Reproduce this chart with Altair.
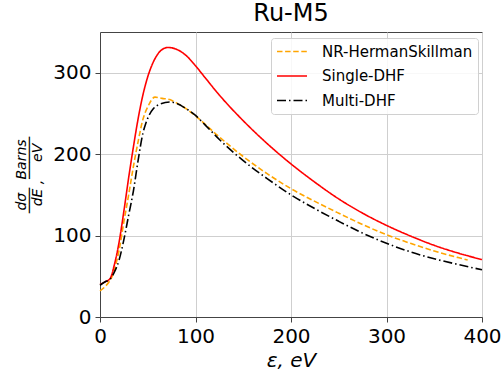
import altair as alt
import pandas as pd

series_names = ["NR-HermanSkillman", "Single-DHF", "Multi-DHF"]
series_colors = ["#ffa500", "#ff0000", "#000000"]

x_nr = [0, 5, 10, 12, 15, 20, 25, 30, 35, 40, 45, 50, 57.6, 65, 73, 80, 90, 100, 125, 150, 175, 200, 225, 250, 275, 300, 325, 350, 375, 385]
y_nr = [32, 37, 44, 48, 58, 82, 117, 150, 185, 216, 243, 258, 270, 268.5, 267, 263, 256, 247, 221, 197, 176, 157.6, 142, 127.5, 113.5, 101, 90.5, 81, 73, 70]

x_single = [0, 5, 10.5, 15, 20, 25, 30, 35, 40, 45, 50, 55, 60, 65, 71, 75, 80, 90, 100, 110, 125, 150, 175, 200, 225, 250, 275, 300, 325, 350, 375, 400]
y_single = [40, 43, 47, 64, 92, 130, 171, 209, 244, 273, 295, 311, 322, 328.5, 331, 330.6, 328.8, 321.3, 308.5, 294, 272.5, 241, 213, 188, 165.5, 145, 127.5, 112.5, 99.5, 88, 78.5, 70.5]

x_multi = [0, 5, 10.5, 15, 20, 25, 30, 35, 40, 45, 48, 52, 56, 63, 73, 80, 90, 100, 110, 125, 150, 175, 200, 225, 250, 275, 300, 325, 350, 375, 400]
y_multi = [39, 43, 46.5, 55, 70, 95, 125, 155, 193, 226, 238, 249, 256, 261.5, 264, 262.5, 256, 247.5, 236, 218, 192, 170, 150, 133, 117.5, 103, 90.5, 80, 71.5, 64.5, 58]

x_ticks = [0, 100, 200, 300, 400]
y_ticks = [0, 100, 200, 300]

frames = []
for name, xs, ys in [(series_names[0], x_nr, y_nr),
                     (series_names[1], x_single, y_single),
                     (series_names[2], x_multi, y_multi)]:
    frames.append(pd.DataFrame({"x": xs, "y": ys, "series": name}))
df = pd.concat(frames, ignore_index=True)

font = "DejaVu Sans"
nb = "\u00a0"
ytitle = [
    "dσ" + nb * 3 + "Barns",
    "───" + nb * 2 + "─────",
    "dE" + nb + "," + nb * 4 + "eV" + nb * 3,
]

lines = alt.Chart(df).mark_line(strokeWidth=1.6, interpolate="monotone").encode(
    x=alt.X("x:Q", scale=alt.Scale(domain=[0, 400], nice=False, zero=False),
            axis=alt.Axis(values=x_ticks, title="ε, eV", titleFontStyle="italic",
                          titleFontSize=20, titleFontWeight="normal", titlePadding=4,
                          labelFontSize=20, labelPadding=4, tickSize=5,
                          labelFlush=False, grid=True)),
    y=alt.Y("y:Q", scale=alt.Scale(domain=[0, 350], nice=False),
            axis=alt.Axis(values=y_ticks,
                          title=ytitle,
                          titleFontStyle="italic", titleFontSize=14,
                          titleFontWeight="normal", titlePadding=8,
                          titleLineHeight=8,
                          labelFontSize=20, labelPadding=4, tickSize=5, grid=True)),
    color=alt.Color("series:N",
                    scale=alt.Scale(domain=series_names, range=series_colors),
                    legend=alt.Legend(title=None, orient="none", legendX=171, legendY=6,
                                      symbolType="M-1,0H3", symbolSize=225,
                                      symbolStrokeWidth=1.6, labelFontSize=15,
                                      labelFont=font, labelOffset=29, rowPadding=7.5,
                                      padding=5, fillColor="rgba(255,255,255,0.85)",
                                      strokeColor="#d0d0d0", cornerRadius=3,
                                      labelColor="#000000")),
    strokeDash=alt.StrokeDash("series:N",
                              scale=alt.Scale(domain=series_names,
                                              range=[[5.5, 2.6], [1, 0], [9, 3, 1.5, 3]]),
                              legend=alt.Legend(title=None)),
    order=alt.Order("series:N"),
)

chart = lines.properties(
    width=382, height=285,
    background="white",
    title=alt.TitleParams("Ru-M5", fontSize=24, font=font, fontWeight="normal",
                          color="#000000", offset=6),
    autosize=alt.AutoSizeParams(type="none"),
    padding={"left": 100, "top": 32, "right": 22, "bottom": 55},
).configure_view(
    stroke="#444444", strokeWidth=1
).configure_axis(
    labelFont=font, titleFont=font, labelColor="#000000", titleColor="#000000",
    gridColor="#cfcfcf", gridWidth=1, domainColor="#444444", tickColor="#444444",
    gridOpacity=1
)

chart.save("out.html", embed_options={"renderer": "svg", "actions": False})
